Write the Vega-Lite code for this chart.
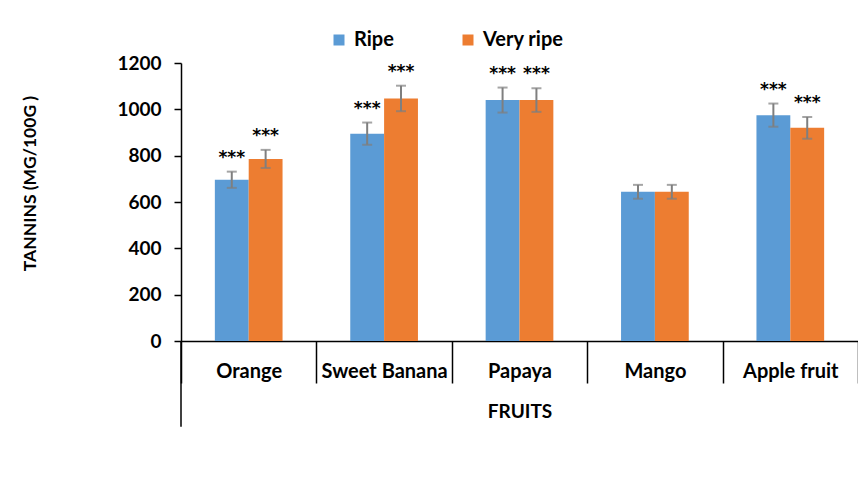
{
  "$schema": "https://vega.github.io/schema/vega-lite/v6.json",
  "autosize": {"type": "none"},
  "padding": {"left": 181, "top": 63, "right": 0, "bottom": 141},
  "width": 677,
  "height": 278,
  "background": "white",
  "config": {
    "view": {"stroke": null},
    "font": "Lato",
    "axis": {"grid": false, "domainColor": "black", "tickColor": "black", "labelColor": "black", "titleColor": "black", "labelFont": "Lato", "titleFont": "Lato", "labelFontWeight": "bold", "titleFontWeight": "bold"}
  },
  "data": {
    "values": [
      {"fruit": "Orange", "ripeness": "Ripe", "value": 696, "lo": 661, "hi": 731, "sig": "***"},
      {"fruit": "Orange", "ripeness": "Very ripe", "value": 786, "lo": 747, "hi": 825, "sig": "***"},
      {"fruit": "Sweet Banana", "ripeness": "Ripe", "value": 895, "lo": 847, "hi": 943, "sig": "***"},
      {"fruit": "Sweet Banana", "ripeness": "Very ripe", "value": 1047, "lo": 992, "hi": 1102, "sig": "***"},
      {"fruit": "Papaya", "ripeness": "Ripe", "value": 1040, "lo": 986, "hi": 1094, "sig": "***"},
      {"fruit": "Papaya", "ripeness": "Very ripe", "value": 1040, "lo": 989, "hi": 1091, "sig": "***"},
      {"fruit": "Mango", "ripeness": "Ripe", "value": 644, "lo": 614, "hi": 674, "sig": ""},
      {"fruit": "Mango", "ripeness": "Very ripe", "value": 644, "lo": 614, "hi": 674, "sig": ""},
      {"fruit": "Apple fruit", "ripeness": "Ripe", "value": 975, "lo": 925, "hi": 1025, "sig": "***"},
      {"fruit": "Apple fruit", "ripeness": "Very ripe", "value": 920, "lo": 873, "hi": 967, "sig": "***"}
    ]
  },
  "encoding": {
    "x": {
      "field": "fruit", "type": "nominal", "sort": null,
      "scale": {"paddingInner": 0, "paddingOuter": 0},
      "axis": {
        "title": "FRUITS", "labelAngle": 0, "tickBand": "extent", "tickSize": 42, "tickWidth": 1.5,
        "domainWidth": 1.5, "labelFontSize": 20, "labelPadding": -12, "labelBaseline": "middle",
        "titleFontSize": 19, "titleY": 70, "titleBaseline": "middle"
      }
    },
    "xOffset": {"field": "ripeness", "type": "nominal", "scale": {"paddingInner": 0, "paddingOuter": 1}}
  },
  "layer": [
    {
      "mark": {"type": "bar"},
      "encoding": {
        "y": {
          "field": "value", "type": "quantitative",
          "scale": {"domain": [0, 1200], "nice": false},
          "axis": {
            "title": "TANNINS (MG/100G )", "values": [0, 200, 400, 600, 800, 1000, 1200], "format": "d",
            "tickSize": 7, "tickWidth": 1.5, "domainWidth": 1.5, "labelPadding": 13, "labelFontSize": 19,
            "titleFontSize": 17.5, "titleX": -151, "titleY": 120, "titleBaseline": "middle", "titleAlign": "center"
          }
        },
        "color": {
          "field": "ripeness", "type": "nominal",
          "scale": {"domain": ["Ripe", "Very ripe"], "range": ["#5B9BD5", "#ED7D31"]},
          "legend": {
            "title": null, "orient": "none", "direction": "horizontal", "legendX": 148, "legendY": -33,
            "symbolType": "square", "symbolSize": 121, "symbolStrokeWidth": 0, "labelFontSize": 20, "labelFont": "Lato",
            "labelFontWeight": "bold", "labelColor": "black", "columnPadding": 64, "labelOffset": 5
          }
        }
      }
    },
    {
      "mark": {"type": "rule", "color": "#7F7F7F", "strokeWidth": 2},
      "encoding": {
        "y": {"field": "lo", "type": "quantitative"},
        "y2": {"field": "hi"}
      }
    },
    {
      "mark": {"type": "tick", "color": "#7F7F7F", "thickness": 2, "size": 10, "orient": "horizontal"},
      "encoding": {"y": {"field": "lo", "type": "quantitative"}}
    },
    {
      "mark": {"type": "tick", "color": "#7F7F7F", "thickness": 2, "size": 10, "orient": "horizontal"},
      "encoding": {"y": {"field": "hi", "type": "quantitative"}}
    },
    {
      "mark": {"type": "text", "font": "DejaVu Sans", "fontWeight": "bold", "fontSize": 17, "baseline": "alphabetic", "dy": -9, "color": "black"},
      "encoding": {
        "y": {"field": "hi", "type": "quantitative"},
        "text": {"field": "sig"}
      }
    },
    {
      "data": {"values": [{"from": 0, "to": -370}]},
      "mark": {"type": "rule", "color": "black", "strokeWidth": 1.5},
      "encoding": {
        "x": {"datum": "Orange", "bandPosition": 0},
        "xOffset": null,
        "y": {"field": "from", "type": "quantitative"},
        "y2": {"field": "to"}
      }
    }
  ]
}
